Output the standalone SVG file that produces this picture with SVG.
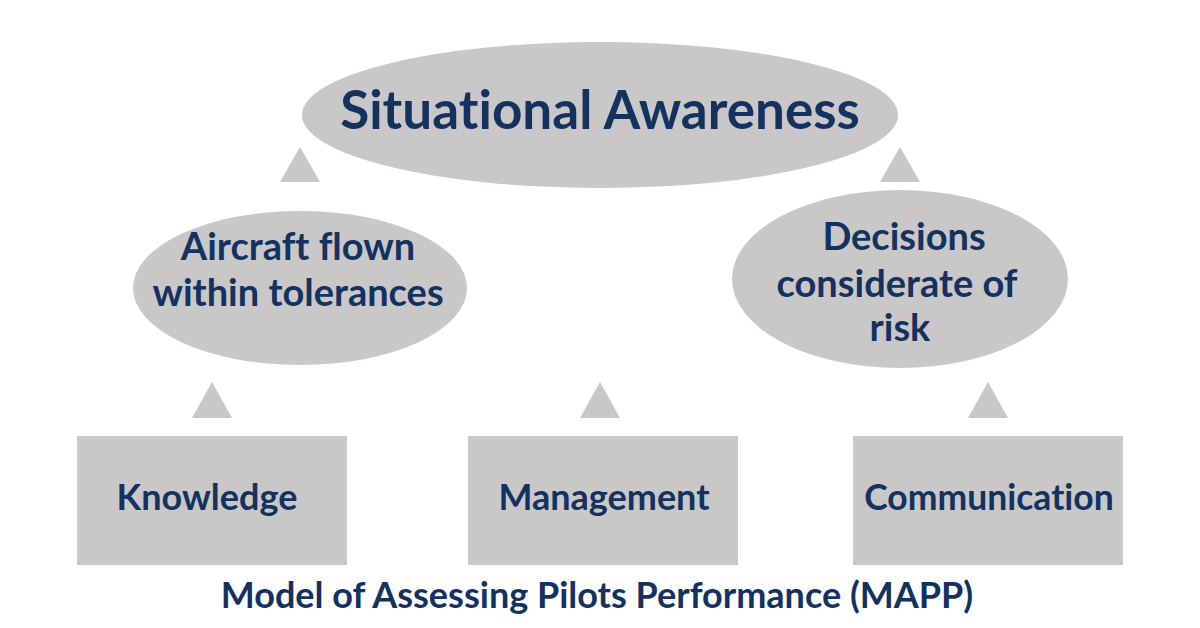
<svg xmlns="http://www.w3.org/2000/svg" width="1200" height="628" viewBox="0 0 1200 628">
<style>
.shape{fill:#c9c7c8}
.t{font-family:Lato,"Open Sans","Liberation Sans",sans-serif;font-weight:700;fill:#14325f;text-anchor:middle;font-variant-ligatures:none;font-feature-settings:"liga" 0}
</style>
<rect width="1200" height="628" fill="#ffffff"/>
<g id="connectors">
<polygon class="shape" points="300,147 320,182 280,182"/>
<polygon class="shape" points="900,147 920,182 880,182"/>
<polygon class="shape" points="212,382 232,418 192,418"/>
<polygon class="shape" points="600,382 620,418 580,418"/>
<polygon class="shape" points="988,382 1008,418 968,418"/>
</g>
<g id="situational-awareness">
<ellipse class="shape" cx="600" cy="115" rx="298" ry="73"/>
<text class="t" x="600" y="129" font-size="53">Situational Awareness</text>
</g>
<g id="aircraft-flown">
<ellipse class="shape" cx="300" cy="288" rx="167" ry="77"/>
<text class="t" x="298" y="260" font-size="38">Aircraft flown</text>
<text class="t" x="298" y="306" font-size="38">within tolerances</text>
</g>
<g id="decisions">
<ellipse class="shape" cx="900" cy="279" rx="168" ry="89"/>
<text class="t" x="904" y="250" font-size="38">Decisions</text>
<text class="t" x="897" y="297" font-size="38">considerate of</text>
<text class="t" x="900" y="341" font-size="38">risk</text>
</g>
<g id="knowledge">
<rect class="shape" x="77" y="436" width="270" height="129"/>
<text class="t" x="207" y="510" font-size="36">Knowledge</text>
</g>
<g id="management">
<rect class="shape" x="468" y="436" width="270" height="129"/>
<text class="t" x="604" y="510" font-size="36">Management</text>
</g>
<g id="communication">
<rect class="shape" x="853" y="436" width="270" height="129"/>
<text class="t" x="989" y="510" font-size="35.5">Communication</text>
</g>
<text id="caption" class="t" x="597" y="608" font-size="36">Model of Assessing Pilots Performance (MAPP)</text>
</svg>
